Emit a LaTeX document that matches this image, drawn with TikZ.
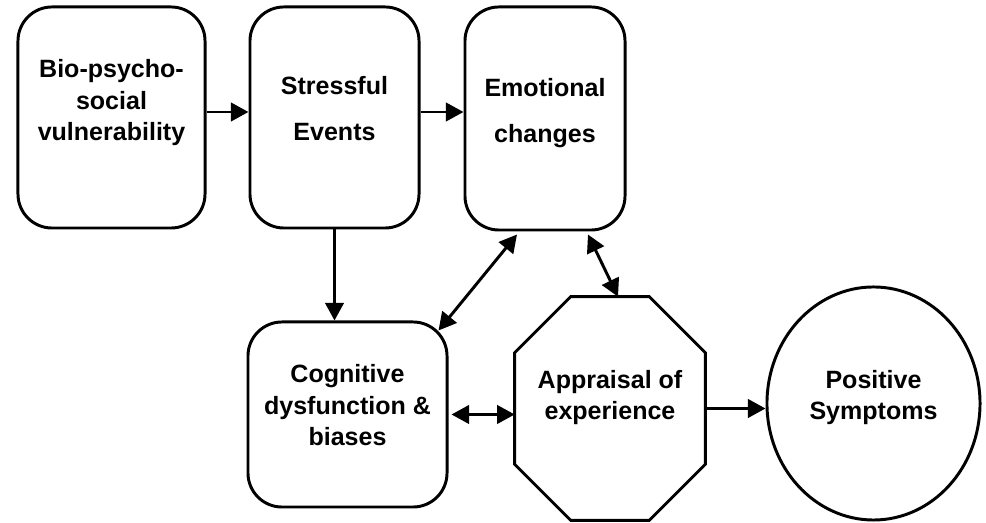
\documentclass[tikz,border=0pt]{standalone}
\usepackage{fontspec}
\setmainfont{Liberation Sans}
\usepackage{tikz}
\usetikzlibrary{shapes.geometric, arrows.meta, calc}
\tikzset{
	roundbox/.style ={rectangle, rounded corners=0.85cm, draw=black, line width=2.1pt, align=center, inner sep=0pt},
	octa/.style     ={rectangle, align=center, inner sep=0pt},
	octaline/.style ={draw=black, line width=2.1pt, line join=miter},
	oval/.style     ={ellipse, draw=black, line width=2.1pt, align=center, inner sep=0pt},
	flowarrow/.style={-{Triangle[length=4.4mm, width=4.6mm]}, line width=2.1pt},
	bothways/.style ={{Triangle[length=4.4mm, width=4.6mm]}-{Triangle[length=4.4mm, width=4.6mm]}, line width=2.1pt},
}
\begin{document}
\begin{tikzpicture}[x=0.025cm, y=0.025cm, font=\fontsize{17.8pt}{22.2pt}\selectfont\bfseries]
	\useasboundingbox (0,0) rectangle (986,523);
	% top row
	\node[roundbox, minimum width=4.675cm, minimum height=5.525cm, text depth=0.875cm]
		(vuln) at (111.5,405.5) {Bio-psycho-\\ social\\ vulnerability};
	\node[roundbox, minimum width=4.225cm, minimum height=5.525cm, text depth=0.45cm]
		(stress) at (334.5,405.5) {Stressful\\[0.35cm] Events};
	\node[roundbox, minimum width=4.0cm, minimum height=5.575cm, text depth=0.4cm]
		(emot) at (545,404.5) {Emotional\\[0.35cm] changes};
	% bottom row
	\node[roundbox, minimum width=4.975cm, minimum height=4.625cm, text depth=0.475cm]
		(cogn) at (347.5,108.5) {Cognitive\\ dysfunction \&\\ biases};
	\node[octa, minimum width=4.75cm, minimum height=5.575cm, text depth=0.675cm]
		(appr) at (610,114.5) {Appraisal of\\ experience};
	\draw[octaline] ($(appr.north west)+(56,0)$) -- ($(appr.north east)+(-56,0)$)
		-- ($(appr.north east)+(0,-56)$) -- ($(appr.south east)+(0,56)$)
		-- ($(appr.south east)+(-56,0)$) -- ($(appr.south west)+(56,0)$)
		-- ($(appr.south west)+(0,56)$) -- ($(appr.north west)+(0,-56)$) -- cycle;
	\node[oval, minimum width=5.325cm, minimum height=5.825cm, text depth=0.425cm]
		(sympt) at (873.5,119.5) {Positive\\ Symptoms};
	% connectors
	\draw[flowarrow] ($(vuln.east)+(0,5.5)$) -- ($(stress.west)+(0,5.5)$);
	\draw[flowarrow] ($(stress.east)+(0,5.5)$) -- ($(emot.west)+(0,6.5)$);
	\draw[flowarrow] (stress.south) -- (stress |- cogn.north);
	\draw[bothways] ($(cogn.north east)+(-10,-10)$) -- ($(emot.south)+(-28,-3)$);
	\draw[bothways] ($(emot.south)+(43,-3)$) -- ($(appr.north)+(8,0)$);
	\draw[bothways] ($(cogn.east)+(3,0)$) -- (cogn.east -| appr.west);
	\draw[flowarrow] (appr.east) -- (appr.east -| sympt.west);
\end{tikzpicture}
\end{document}
